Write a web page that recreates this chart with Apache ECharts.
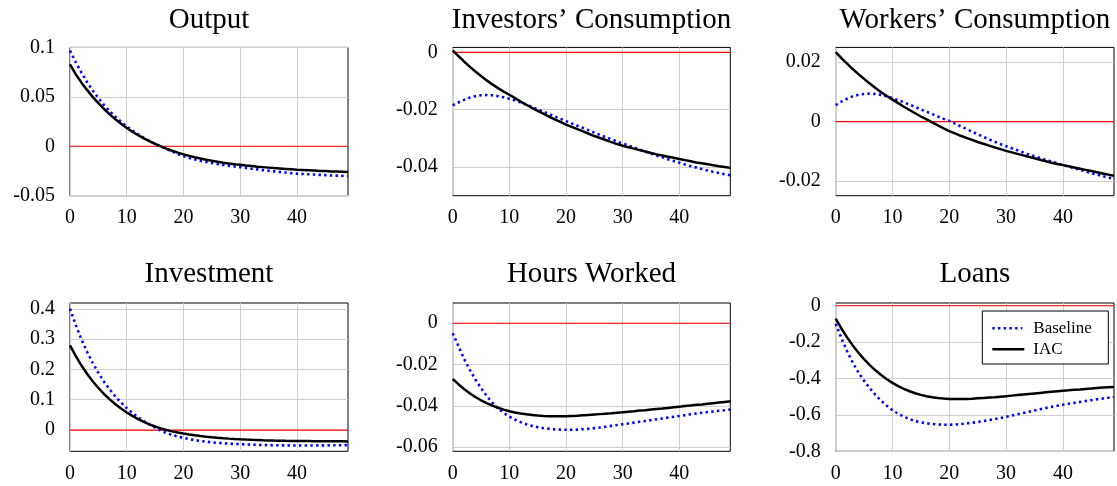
<!DOCTYPE html>
<html><head><meta charset="utf-8">
<script src="https://cdn.jsdelivr.net/npm/echarts@6/dist/echarts.min.js"></script>
<style>html,body{margin:0;padding:0;background:#fff}#c{width:1117px;height:486px}</style>
</head><body><div id="c"></div>
<script>
const periods = [0,1,2,3,4,5,6,7,8,9,10,11,12,13,14,15,16,17,18,19,20,21,22,23,24,25,26,27,28,29,30,31,32,33,34,35,36,37,38,39,40,41,42,43,44,45,46,47,48,49];
const titles = ['Output', 'Investors\u2019 Consumption', 'Workers\u2019 Consumption', 'Investment', 'Hours Worked', 'Loans'];
const seriesNames = ['Baseline', 'IAC'];
const xTicks = [0, 10, 20, 30, 40];
const zeroLineX = [0, 49];
const zeroLineY = [0, 0];

const outputBaseline = [0.0967,0.0852,0.0746,0.065,0.0564,0.0487,0.0417,0.0354,0.0298,0.0247,0.0201,0.0159,0.0121,0.0086,0.0054,0.0025,-0.0002,-0.0028,-0.0053,-0.0078,-0.0101,-0.0118,-0.0133,-0.0147,-0.0159,-0.017,-0.018,-0.0189,-0.0197,-0.0204,-0.0211,-0.0219,-0.0227,-0.0234,-0.0241,-0.0248,-0.0254,-0.026,-0.0266,-0.0272,-0.0277,-0.028,-0.0283,-0.0286,-0.0289,-0.0292,-0.0295,-0.0297,-0.0299,-0.0301];
const outputIAC = [0.0829,0.0729,0.0646,0.057,0.05,0.0436,0.0377,0.0323,0.0273,0.0227,0.0185,0.0147,0.0112,0.008,0.0051,0.0024,-0.0001,-0.0024,-0.0045,-0.0064,-0.0082,-0.0097,-0.0111,-0.0124,-0.0136,-0.0147,-0.0157,-0.0166,-0.0174,-0.0181,-0.0187,-0.0194,-0.02,-0.0206,-0.0211,-0.0216,-0.0221,-0.0225,-0.0229,-0.0233,-0.0237,-0.024,-0.0243,-0.0246,-0.0249,-0.0251,-0.0254,-0.0256,-0.0258,-0.026];

const investorsBaseline = [-0.0185,-0.0175,-0.0166,-0.0158,-0.0153,-0.015,-0.0149,-0.015,-0.0153,-0.0157,-0.0162,-0.0168,-0.0175,-0.0183,-0.0191,-0.0199,-0.0207,-0.0215,-0.0224,-0.0232,-0.024,-0.0248,-0.0256,-0.0264,-0.0272,-0.028,-0.0288,-0.0296,-0.0303,-0.0311,-0.0318,-0.0325,-0.0332,-0.0339,-0.0346,-0.0353,-0.036,-0.0366,-0.0373,-0.0379,-0.0385,-0.0391,-0.0397,-0.0402,-0.0407,-0.0412,-0.0417,-0.0421,-0.0425,-0.0429];
const investorsIAC = [0.0007,-0.0013,-0.0032,-0.005,-0.0067,-0.0083,-0.0098,-0.0112,-0.0125,-0.0137,-0.0148,-0.016,-0.0172,-0.0183,-0.0194,-0.0204,-0.0214,-0.0224,-0.0234,-0.0243,-0.0252,-0.026,-0.0268,-0.0276,-0.0284,-0.0292,-0.0299,-0.0306,-0.0313,-0.032,-0.0326,-0.0331,-0.0336,-0.0341,-0.0346,-0.0351,-0.0356,-0.036,-0.0364,-0.0368,-0.0372,-0.0376,-0.038,-0.0384,-0.0387,-0.039,-0.0394,-0.0397,-0.04,-0.0403];

const workersBaseline = [0.0055,0.0067,0.0077,0.0085,0.009,0.0093,0.0094,0.0093,0.009,0.0085,0.0079,0.0072,0.0065,0.0057,0.0049,0.0041,0.0033,0.0025,0.0017,0.0009,0.0002,-0.0007,-0.0016,-0.0025,-0.0034,-0.0043,-0.0052,-0.006,-0.0068,-0.0076,-0.0083,-0.009,-0.0097,-0.0104,-0.0111,-0.0117,-0.0123,-0.0129,-0.0135,-0.0141,-0.0146,-0.0152,-0.0157,-0.0163,-0.0168,-0.0174,-0.0179,-0.0184,-0.0189,-0.0194];
const workersIAC = [0.0234,0.0214,0.0195,0.0177,0.016,0.0144,0.0128,0.0113,0.0099,0.0086,0.0074,0.0062,0.005,0.0039,0.0028,0.0017,0.0007,-0.0003,-0.0013,-0.0023,-0.0032,-0.004,-0.0048,-0.0055,-0.0062,-0.0069,-0.0075,-0.0081,-0.0087,-0.0093,-0.0099,-0.0104,-0.0109,-0.0114,-0.0119,-0.0124,-0.0129,-0.0134,-0.0139,-0.0143,-0.0147,-0.0151,-0.0155,-0.0159,-0.0163,-0.0167,-0.0171,-0.0175,-0.0179,-0.0183];

const investmentBaseline = [0.40,0.347,0.30,0.2583,0.2213,0.1885,0.1594,0.1336,0.1107,0.0904,0.0724,0.0564,0.0422,0.0296,0.0184,0.0085,-0.002,-0.0098,-0.0163,-0.0215,-0.026,-0.0299,-0.0332,-0.036,-0.0384,-0.0404,-0.0421,-0.0435,-0.0447,-0.0457,-0.0466,-0.0474,-0.0481,-0.0487,-0.0492,-0.0497,-0.05,-0.0503,-0.0505,-0.0507,-0.0508,-0.0508,-0.0508,-0.0507,-0.0506,-0.0505,-0.0503,-0.0501,-0.0499,-0.0497];
const investmentIAC = [0.279,0.2445,0.2136,0.1859,0.1611,0.1389,0.119,0.1012,0.0852,0.0709,0.0581,0.0466,0.0363,0.0271,0.0189,0.0118,0.0055,0.0002,-0.0043,-0.0082,-0.0116,-0.0146,-0.0173,-0.0197,-0.0218,-0.0237,-0.0254,-0.0269,-0.0282,-0.0294,-0.0305,-0.0314,-0.0322,-0.0329,-0.0336,-0.0341,-0.0346,-0.035,-0.0354,-0.0357,-0.036,-0.0362,-0.0364,-0.0366,-0.0368,-0.0369,-0.037,-0.0371,-0.0372,-0.0373];

const hoursBaseline = [-0.0048,-0.011,-0.0172,-0.0225,-0.0272,-0.0314,-0.0352,-0.0385,-0.0412,-0.0434,-0.0452,-0.0467,-0.0479,-0.0489,-0.0497,-0.0503,-0.0508,-0.0511,-0.0514,-0.0515,-0.0516,-0.0516,-0.0515,-0.0513,-0.0511,-0.0508,-0.0505,-0.0501,-0.0497,-0.0493,-0.0489,-0.0485,-0.0481,-0.0477,-0.0473,-0.0469,-0.0465,-0.0461,-0.0457,-0.0453,-0.0449,-0.0445,-0.0441,-0.0437,-0.0433,-0.043,-0.0427,-0.0424,-0.0421,-0.0418];
const hoursIAC = [-0.027,-0.0295,-0.0318,-0.0339,-0.0357,-0.0373,-0.0387,-0.0399,-0.0409,-0.0418,-0.0426,-0.0432,-0.0437,-0.0441,-0.0444,-0.0447,-0.0449,-0.045,-0.045,-0.045,-0.045,-0.0449,-0.0448,-0.0446,-0.0444,-0.0442,-0.044,-0.0438,-0.0436,-0.0433,-0.0431,-0.0428,-0.0426,-0.0423,-0.0421,-0.0418,-0.0415,-0.0413,-0.041,-0.0407,-0.0404,-0.0401,-0.0398,-0.0395,-0.0393,-0.039,-0.0387,-0.0384,-0.0381,-0.0378];

const loansBaseline = [-0.099,-0.178,-0.25,-0.313,-0.367,-0.413,-0.454,-0.49,-0.522,-0.55,-0.574,-0.594,-0.61,-0.623,-0.633,-0.641,-0.646,-0.65,-0.653,-0.654,-0.654,-0.653,-0.65,-0.647,-0.643,-0.639,-0.634,-0.629,-0.623,-0.617,-0.611,-0.604,-0.597,-0.59,-0.583,-0.576,-0.569,-0.562,-0.556,-0.55,-0.544,-0.539,-0.534,-0.529,-0.524,-0.519,-0.514,-0.51,-0.506,-0.502];
const loansIAC = [-0.071,-0.125,-0.174,-0.218,-0.258,-0.294,-0.326,-0.355,-0.381,-0.404,-0.424,-0.442,-0.457,-0.47,-0.481,-0.49,-0.497,-0.503,-0.507,-0.51,-0.512,-0.513,-0.513,-0.512,-0.511,-0.509,-0.507,-0.505,-0.503,-0.5,-0.497,-0.494,-0.491,-0.488,-0.485,-0.482,-0.479,-0.476,-0.473,-0.47,-0.467,-0.465,-0.462,-0.46,-0.457,-0.455,-0.452,-0.45,-0.448,-0.446];

const yTicks = [
  [-0.05, 0, 0.05, 0.1],
  [-0.04, -0.02, 0],
  [-0.02, 0, 0.02],
  [0, 0.1, 0.2, 0.3, 0.4],
  [-0.06, -0.04, -0.02, 0],
  [-0.8, -0.6, -0.4, -0.2, 0]
];
const yRanges = [[-0.05, 0.1], [-0.05, 0.0017], [-0.025, 0.025], [-0.07, 0.419], [-0.062, 0.0098], [-0.8, 0.015]];
const baselineData = [outputBaseline, investorsBaseline, workersBaseline, investmentBaseline, hoursBaseline, loansBaseline];
const iacData = [outputIAC, investorsIAC, workersIAC, investmentIAC, hoursIAC, loansIAC];

// layout (pixels)
const gridPos = [[70,47.4,278,148.3],[452.7,47.4,277.6,148.3],[835.7,47.4,278.3,148.3],[70,303,278,148.3],[452.7,303,277.6,148.3],[835.7,303,278.3,148.3]];
const FONT = 'Liberation Serif';
const BLUE_DASH = [2.4, 3.3];

const chart = echarts.init(document.getElementById('c'), null, {renderer: 'canvas'});
const fmt = v => { const r = Math.round(v * 10000) / 10000; return String(r === 0 ? 0 : r); };

// legend box (pixels)
const LG = {x: 982.3, y: 311, w: 126, h: 53};
const legendGraphics = [
  {type: 'rect', z: 100, silent: true, shape: {x: LG.x, y: LG.y, width: LG.w, height: LG.h},
   style: {fill: '#fff', stroke: '#000', lineWidth: 1}},
  {type: 'line', z: 101, silent: true, shape: {x1: LG.x + 10, y1: LG.y + 17.3, x2: LG.x + 40, y2: LG.y + 17.3},
   style: {stroke: '#0000ff', lineWidth: 2.6, lineDash: BLUE_DASH, lineCap: 'butt'}},
  {type: 'line', z: 101, silent: true, shape: {x1: LG.x + 10, y1: LG.y + 38.3, x2: LG.x + 42, y2: LG.y + 38.3},
   style: {stroke: '#000', lineWidth: 2.5}},
  {type: 'text', z: 101, silent: true, x: LG.x + 51, y: LG.y + 17.3,
   style: {text: seriesNames[0], align: 'left', verticalAlign: 'middle', font: '17px "' + FONT + '"', fill: '#000'}},
  {type: 'text', z: 101, silent: true, x: LG.x + 51, y: LG.y + 38.3,
   style: {text: seriesNames[1], align: 'left', verticalAlign: 'middle', font: '17px "' + FONT + '"', fill: '#000'}}
];

const option = {
  animation: false,
  backgroundColor: '#fff',
  grid: gridPos.map(g => ({left: g[0], top: g[1], width: g[2], height: g[3], show: true, borderColor: '#000', borderWidth: 1, backgroundColor: 'transparent'})),
  xAxis: gridPos.map((g, i) => ({
    gridIndex: i, type: 'value', min: 0, max: 49, interval: 10,
    axisLine: {show: false, onZero: false},
    axisTick: {show: false, customValues: xTicks},
    axisLabel: {customValues: xTicks, fontFamily: FONT, fontSize: 20, color: '#000', margin: 12, formatter: fmt},
    splitLine: {show: true, lineStyle: {color: '#cfcfcf', width: 1}}
  })),
  yAxis: gridPos.map((g, i) => ({
    gridIndex: i, type: 'value', min: yRanges[i][0], max: yRanges[i][1],
    axisLine: {show: false, onZero: false},
    axisTick: {show: false, customValues: yTicks[i]},
    axisLabel: {customValues: yTicks[i], fontFamily: FONT, fontSize: 20, color: '#000', margin: 15, formatter: fmt},
    splitLine: {show: true, lineStyle: {color: '#cfcfcf', width: 1}}
  })),
  graphic: titles.map((t, i) => ({
    type: 'text', silent: true,
    x: gridPos[i][0] + gridPos[i][2] / 2,
    y: i < 3 ? 20 : 274,
    style: {text: t, align: 'center', verticalAlign: 'middle', font: '29px "' + FONT + '"', fill: '#000'}
  })).concat(legendGraphics),
  series: []
};

for (let i = 0; i < 6; i++) {
  option.series.push({
    type: 'line', name: 'zero', xAxisIndex: i, yAxisIndex: i, silent: true, z: 1,
    symbol: 'none', showSymbol: false,
    data: zeroLineX.map((x, j) => [x, zeroLineY[j]]),
    lineStyle: {color: '#ff0000', width: 1.2, type: 'solid'}
  });
  option.series.push({
    type: 'line', name: seriesNames[0], xAxisIndex: i, yAxisIndex: i, silent: true, z: 2,
    symbol: 'none', showSymbol: false,
    data: periods.map((x, j) => [x, baselineData[i][j]]),
    lineStyle: {color: '#0000ff', width: 2.6, type: BLUE_DASH, cap: 'butt'},
    itemStyle: {color: '#0000ff'}
  });
  option.series.push({
    type: 'line', name: seriesNames[1], xAxisIndex: i, yAxisIndex: i, silent: true, z: 3,
    symbol: 'none', showSymbol: false,
    data: periods.map((x, j) => [x, iacData[i][j]]),
    lineStyle: {color: '#000000', width: 2.5, type: 'solid'},
    itemStyle: {color: '#000000'}
  });
}
chart.setOption(option);
</script>
</body></html>
